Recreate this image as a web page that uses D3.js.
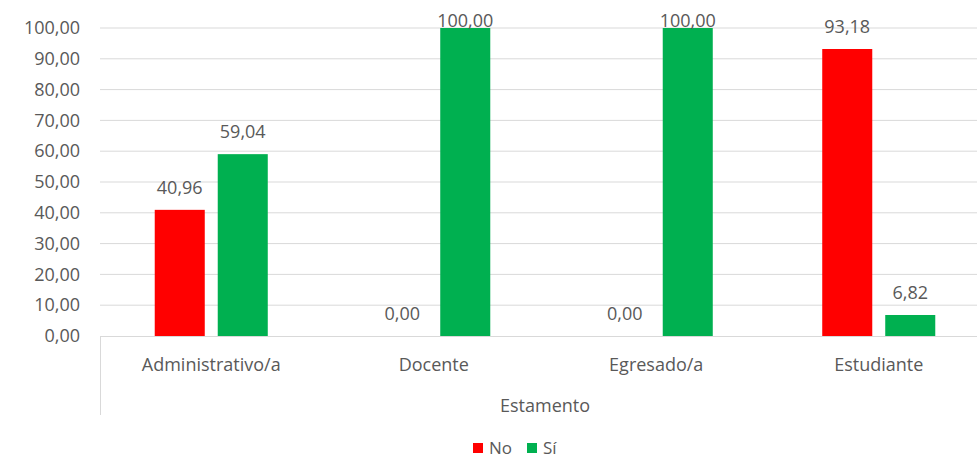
<!DOCTYPE html>
<html>
<head>
<meta charset="utf-8">
<script src="https://cdn.jsdelivr.net/npm/d3@7"></script>
<style>
  body { margin: 0; background: #fff; }
  text { font-family: "Open Sans", sans-serif; fill: #595959; }
</style>
</head>
<body>
<script>
const width = 977;
const height = 458;

// data
const categories = ["Administrativo/a", "Docente", "Egresado/a", "Estudiante"];
const seriesNames = ["No", "Sí"];
const noValues = [40.96, 0.00, 0.00, 93.18];
const siValues = [59.04, 100.00, 100.00, 6.82];
const yTicks = [0, 10, 20, 30, 40, 50, 60, 70, 80, 90, 100];
const colors = ["#FF0000", "#00B050"];

const rows = categories.map((c, i) => ({ cat: c, vals: [noValues[i], siValues[i]] }));

const margin = { top: 28, right: -13, bottom: 122, left: 100 };

const fmt = v => d3.format(".2f")(v).replace(".", ",");

const x0 = d3.scaleBand()
  .domain(categories)
  .range([margin.left, width - margin.right])
  .paddingInner(0.492)
  .paddingOuter(0.246);

const x1 = d3.scaleBand()
  .domain(seriesNames)
  .range([0, x0.bandwidth()])
  .paddingInner(0.206);

const y = d3.scaleLinear()
  .domain([0, 100])
  .range([height - margin.bottom, margin.top]);

const color = d3.scaleOrdinal().domain(seriesNames).range(colors);

const svg = d3.select("body")
  .append("svg")
  .attr("width", width)
  .attr("height", height);

// gridlines
svg.append("g")
  .selectAll("line")
  .data(yTicks.filter(t => t > 0))
  .enter()
  .append("line")
  .attr("x1", margin.left)
  .attr("x2", width - margin.right)
  .attr("y1", d => y(d))
  .attr("y2", d => y(d))
  .attr("stroke", "#D9D9D9")
  .attr("stroke-width", 1);

// y axis labels
const yAxis = d3.axisLeft(y)
  .tickValues(yTicks)
  .tickFormat(fmt)
  .tickSize(0)
  .tickPadding(20);

svg.append("g")
  .attr("transform", `translate(${margin.left},0)`)
  .call(yAxis)
  .call(g => g.select(".domain").remove())
  .selectAll("text")
  .style("font-size", "18px")
  .attr("fill", "#595959");

// bars
const groups = svg.append("g")
  .selectAll("g")
  .data(rows)
  .enter()
  .append("g")
  .attr("transform", d => `translate(${x0(d.cat)},0)`);

groups.selectAll("rect")
  .data(d => d.vals.map((v, i) => ({ key: seriesNames[i], v: v })))
  .enter()
  .append("rect")
  .attr("x", d => x1(d.key))
  .attr("width", x1.bandwidth())
  .attr("y", d => y(d.v))
  .attr("height", d => y(0) - y(d.v))
  .attr("fill", d => color(d.key));

groups.selectAll("text")
  .data(d => d.vals.map((v, i) => ({ key: seriesNames[i], v: v })))
  .enter()
  .append("text")
  .attr("x", d => x1(d.key) + x1.bandwidth() / 2)
  .attr("y", d => Math.max(y(d.v) - 16, margin.top - 1))
  .attr("text-anchor", "middle")
  .style("font-size", "18px")
  .text(d => fmt(d.v));

// x axis line and category box
const axisColor = "#D9D9D9";
svg.append("line")
  .attr("x1", margin.left)
  .attr("x2", width - margin.right)
  .attr("y1", y(0) + 0.5)
  .attr("y2", y(0) + 0.5)
  .attr("stroke", axisColor);

svg.append("line")
  .attr("x1", margin.left + 0.5)
  .attr("x2", margin.left + 0.5)
  .attr("y1", y(0))
  .attr("y2", 415)
  .attr("stroke", axisColor);

svg.append("g")
  .selectAll("text")
  .data(categories)
  .enter()
  .append("text")
  .attr("x", d => x0(d) + x0.bandwidth() / 2)
  .attr("y", y(0) + 35)
  .attr("text-anchor", "middle")
  .style("font-size", "18px")
  .text(d => d);

svg.append("text")
  .attr("x", (margin.left + width - margin.right) / 2)
  .attr("y", 412)
  .attr("text-anchor", "middle")
  .style("font-size", "18px")
  .text("Estamento");

// legend
const legend = svg.append("g").attr("transform", "translate(473,443)");
const legendX = [0, 54];
seriesNames.forEach((s, i) => {
  legend.append("rect")
    .attr("x", legendX[i])
    .attr("y", 0)
    .attr("width", 10)
    .attr("height", 10)
    .attr("fill", color(s));
  legend.append("text")
    .attr("x", legendX[i] + 16)
    .attr("y", 11)
    .style("font-size", "17px")
    .text(s);
});
</script>
</body>
</html>
